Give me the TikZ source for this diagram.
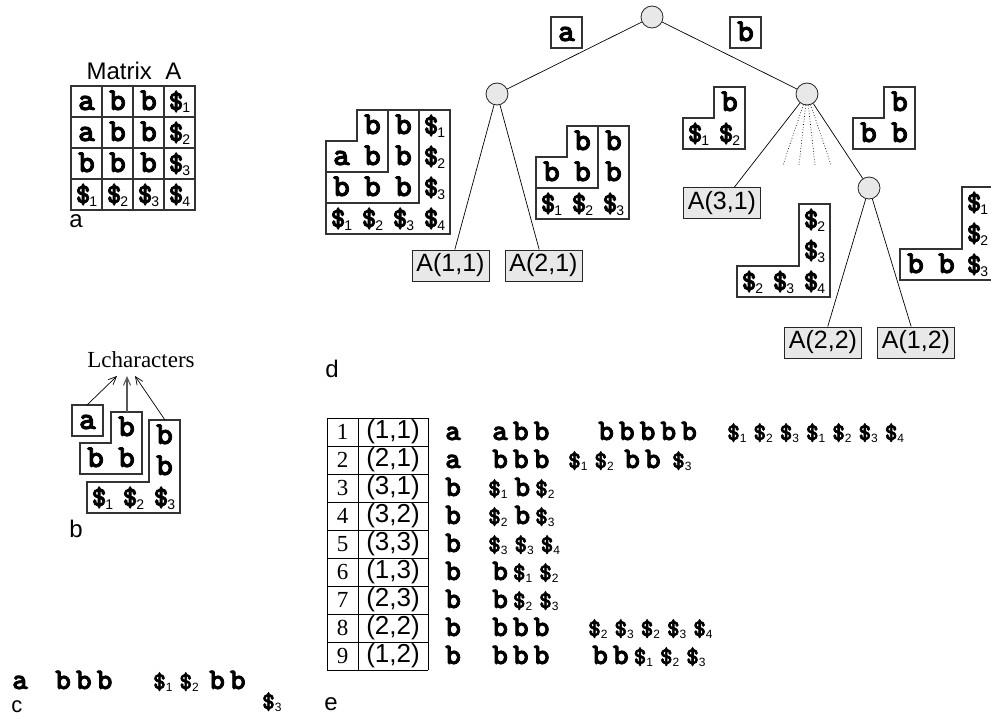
\documentclass[tikz,border=0pt]{standalone}
\usepackage{fontspec}
\usepackage{graphicx}
\setmainfont{Liberation Serif}
\newfontfamily\hv{Liberation Sans}
\newfontfamily\crf{lmmonolt10-bold.otf}[FakeBold=2.5]
\usetikzlibrary{arrows.meta}
\newcommand\mcell[1]{{\crf\fontsize{32}{32}\selectfont #1}}
\newcommand\mdol[1]{{\crf\fontsize{28}{28}\selectfont\$}\kern-1pt\raisebox{-3pt}{\hv\fontsize{14}{14}\selectfont #1}}
\newcommand\tlet[1]{{\crf\fontsize{30}{30}\selectfont #1}\kern5pt}
\newcommand\tdol[1]{{\crf\fontsize{24}{24}\selectfont\$}\raisebox{-2pt}{\hv\fontsize{12}{12}\selectfont #1}\kern7pt}
\begin{document}
\begin{tikzpicture}[x=1pt,y=-1pt,
 ln/.style={draw=black!80,line width=1.1pt},
 ct/.style={inner sep=0pt,text height=17pt,text depth=0pt},
 cell/.style={ct,draw=black!80,line width=1.1pt,minimum width=31pt,minimum height=31pt},
 tx/.style={inner sep=0pt,anchor=base west},
 lab/.style={inner sep=0pt,font=\hv\fontsize{24}{24}\selectfont},
 tnode/.style={circle,draw=black!85,fill=black!9,minimum size=22pt,inner sep=0pt,line width=0.8pt},
 leaf/.style={draw=black!85,fill=black!9,line width=0.9pt,minimum width=77pt,minimum height=31pt,inner sep=0pt,font=\hv\fontsize{25}{25}\selectfont},
 edge/.style={line width=0.7pt},
 fan/.style={line width=0.7pt,dotted},
 arr/.style={line width=0.7pt,-{Straight Barb[length=8pt,width=7pt]}},
 tl/.style={line width=0.8pt},
 num/.style={inner sep=0pt,font=\fontsize{23}{23}\selectfont},
 pair/.style={inner sep=0pt,font=\hv\fontsize{26}{26}\selectfont}]
\useasboundingbox (0,0) rectangle (991,717);
% ---------------- panel a
\node[lab] (mtitle) at (134,71) {Matrix\ \ A};
\node[cell] (a00) at (86.5,101.5) {\mcell{a}};
\node[cell] (a01) at (117.5,101.5) {\mcell{b}};
\node[cell] (a02) at (148.5,101.5) {\mcell{b}};
\node[cell] (a03) at (179.5,101.5) {\mdol{1}};
\node[cell] (a10) at (86.5,132.5) {\mcell{a}};
\node[cell] (a11) at (117.5,132.5) {\mcell{b}};
\node[cell] (a12) at (148.5,132.5) {\mcell{b}};
\node[cell] (a13) at (179.5,132.5) {\mdol{2}};
\node[cell] (a20) at (86.5,163.5) {\mcell{b}};
\node[cell] (a21) at (117.5,163.5) {\mcell{b}};
\node[cell] (a22) at (148.5,163.5) {\mcell{b}};
\node[cell] (a23) at (179.5,163.5) {\mdol{3}};
\node[cell] (a30) at (86.5,194.5) {\mdol{1}};
\node[cell] (a31) at (117.5,194.5) {\mdol{2}};
\node[cell] (a32) at (148.5,194.5) {\mdol{3}};
\node[cell] (a33) at (179.5,194.5) {\mdol{4}};
\node[lab] (laba) at (76,221) {a};
% ---------------- panel b
\node[inner sep=0pt,font=\fontsize{23}{23}\selectfont] (lch) at (141,360) {Lcharacters};
\node[cell] (ba) at (87.5,420.5) {\mcell{a}};
\draw[ln] (111,412) -- (142,412) -- (142,474) -- (80,474) -- (80,443) -- (111,443) -- cycle;
\node[ct] (b2a) at (126.5,427.5) {\mcell{b}};
\node[ct] (b2b) at (95.5,458.5) {\mcell{b}};
\node[ct] (b2c) at (126.5,458.5) {\mcell{b}};
\draw[ln] (149,420) -- (180,420) -- (180,513) -- (87,513) -- (87,482) -- (149,482) -- cycle;
\node[ct] (b3a) at (164.5,435.5) {\mcell{b}};
\node[ct] (b3b) at (164.5,466.5) {\mcell{b}};
\node[ct] (b3c) at (102.5,497.5) {\mdol{1}};
\node[ct] (b3d) at (133.5,497.5) {\mdol{2}};
\node[ct] (b3e) at (164.5,497.5) {\mdol{3}};
\coordinate (s1) at (87,405);
\coordinate (s2) at (127,412);
\coordinate (s3) at (165,420);
\coordinate (t1) at (117,376);
\coordinate (t2) at (127,376);
\coordinate (t3) at (135,376);
\draw[arr] (s1) -- (t1);
\draw[arr,draw=black!65,line width=1.1pt] (s2) -- (t2);
\draw[arr] (s3) -- (t3);
\node[lab] (labb) at (76,529) {b};
% ---------------- panel c
\node[tx] (c1) at (12,689) {\tlet{a}};
\node[tx] (c2) at (55,689) {\tlet{b}\tlet{b}\tlet{b}};
\node[tx] (c3) at (153,689) {\tdol{1}\tdol{2}};
\node[tx] (c4) at (209,689) {\tlet{b}\tlet{b}};
\node[tx] (c5) at (262,709) {\tdol{3}};
\node[lab,font=\hv\fontsize{22}{22}\selectfont] (labc) at (17,707) {c};
% ---------------- panel d (tree)
\node[tnode] (rt) at (652,17) {};
\node[tnode] (lc) at (497,94) {};
\node[tnode] (rc) at (807,94) {};
\node[tnode] (lc2) at (869,188) {};
\node[cell] (ea) at (566.5,32.5) {\mcell{a}};
\node[cell] (eb) at (745.5,32.5) {\mcell{b}};
\node[leaf] (l11) at (450.5,265.5) {A(1,1)};
\node[leaf] (l21) at (543.5,265.5) {A(2,1)};
\node[leaf] (l31) at (722,203) {A(3,1)};
\node[leaf] (l22) at (823,342.5) {A(2,2)};
\node[leaf] (l12) at (916,342.5) {A(1,2)};
\draw[edge] (rt) -- (lc);
\draw[edge] (rt) -- (rc);
\draw[edge] (lc) -- (l11);
\draw[edge] (lc) -- (l21);
\draw[edge] (rc) -- (l31);
\draw[edge] (rc) -- (lc2);
\draw[edge] (lc2) -- (l22);
\draw[edge] (lc2) -- (l12);
\coordinate (f1) at (783,165);
\coordinate (f2) at (799,165);
\coordinate (f3) at (815,165);
\coordinate (f4) at (831,165);
\draw[fan] (rc) -- (f1);
\draw[fan] (rc) -- (f2);
\draw[fan] (rc) -- (f3);
\draw[fan] (rc) -- (f4);
% big nested shape
\draw[ln] (357,110) -- (450,110) -- (450,234) -- (326,234) -- (326,141) -- (357,141) -- cycle;
\draw[ln] (388,110) -- (388,172) -- (326,172);
\draw[ln] (419,110) -- (419,203) -- (326,203);
\node[ct] (d01) at (372.5,125.5) {\mcell{b}};
\node[ct] (d02) at (403.5,125.5) {\mcell{b}};
\node[ct] (d03) at (434.5,125.5) {\mdol{1}};
\node[ct] (d10) at (341.5,156.5) {\mcell{a}};
\node[ct] (d11) at (372.5,156.5) {\mcell{b}};
\node[ct] (d12) at (403.5,156.5) {\mcell{b}};
\node[ct] (d13) at (434.5,156.5) {\mdol{2}};
\node[ct] (d20) at (341.5,187.5) {\mcell{b}};
\node[ct] (d21) at (372.5,187.5) {\mcell{b}};
\node[ct] (d22) at (403.5,187.5) {\mcell{b}};
\node[ct] (d23) at (434.5,187.5) {\mdol{3}};
\node[ct] (d30) at (341.5,218.5) {\mdol{1}};
\node[ct] (d31) at (372.5,218.5) {\mdol{2}};
\node[ct] (d32) at (403.5,218.5) {\mdol{3}};
\node[ct] (d33) at (434.5,218.5) {\mdol{4}};
% shape under a-branch
\draw[ln] (567,126) -- (629,126) -- (629,219) -- (536,219) -- (536,157) -- (567,157) -- cycle;
\draw[ln] (598,126) -- (598,188) -- (536,188);
\node[ct] (e01) at (582.5,141.5) {\mcell{b}};
\node[ct] (e02) at (613.5,141.5) {\mcell{b}};
\node[ct] (e10) at (551.5,172.5) {\mcell{b}};
\node[ct] (e11) at (582.5,172.5) {\mcell{b}};
\node[ct] (e12) at (613.5,172.5) {\mcell{b}};
\node[ct] (e20) at (551.5,203.5) {\mdol{1}};
\node[ct] (e21) at (582.5,203.5) {\mdol{2}};
\node[ct] (e22) at (613.5,203.5) {\mdol{3}};
% b / $1 $2
\draw[ln] (714,87) -- (745,87) -- (745,149) -- (683,149) -- (683,118) -- (714,118) -- cycle;
\node[ct] (f01) at (729.5,102.5) {\mcell{b}};
\node[ct] (f10) at (698.5,133.5) {\mdol{1}};
\node[ct] (f11) at (729.5,133.5) {\mdol{2}};
% b / b b
\draw[ln] (884,87) -- (915,87) -- (915,149) -- (853,149) -- (853,118) -- (884,118) -- cycle;
\node[ct] (g01) at (899.5,102.5) {\mcell{b}};
\node[ct] (g10) at (868.5,133.5) {\mcell{b}};
\node[ct] (g11) at (899.5,133.5) {\mcell{b}};
% $2 / $3 / $2 $3 $4
\draw[ln] (799,204) -- (830,204) -- (830,297) -- (737,297) -- (737,266) -- (799,266) -- cycle;
\node[ct] (h02) at (814.5,219.5) {\mdol{2}};
\node[ct] (h12) at (814.5,250.5) {\mdol{3}};
\node[ct] (h20) at (752.5,281.5) {\mdol{2}};
\node[ct] (h21) at (783.5,281.5) {\mdol{3}};
\node[ct] (h22) at (814.5,281.5) {\mdol{4}};
% $1 / $2 / b b $3
\draw[ln] (962,187) -- (993,187) -- (993,280) -- (900,280) -- (900,249) -- (962,249) -- cycle;
\node[ct] (k02) at (977.5,202.5) {\mdol{1}};
\node[ct] (k12) at (977.5,233.5) {\mdol{2}};
\node[ct] (k20) at (915.5,264.5) {\mcell{b}};
\node[ct] (k21) at (946.5,264.5) {\mcell{b}};
\node[ct] (k22) at (977.5,264.5) {\mdol{3}};
\node[lab] (labd) at (332,369) {d};
% ---------------- panel e (table)
\foreach \k in {0,...,9} \draw[tl] (327,{418+28*\k}) -- (428,{418+28*\k});
\draw[tl] (327,418) -- (327,670);
\draw[tl] (358,418) -- (358,670);
\draw[tl] (428,418) -- (428,670);
\node[num] (n1) at (342.5,432) {1};
\node[num] (n2) at (342.5,460) {2};
\node[num] (n3) at (342.5,488) {3};
\node[num] (n4) at (342.5,516) {4};
\node[num] (n5) at (342.5,544) {5};
\node[num] (n6) at (342.5,572) {6};
\node[num] (n7) at (342.5,600) {7};
\node[num] (n8) at (342.5,628) {8};
\node[num] (n9) at (342.5,656) {9};
\node[pair] (p1) at (393,432) {(1,1)};
\node[pair] (p2) at (393,460) {(2,1)};
\node[pair] (p3) at (393,488) {(3,1)};
\node[pair] (p4) at (393,516) {(3,2)};
\node[pair] (p5) at (393,544) {(3,3)};
\node[pair] (p6) at (393,572) {(1,3)};
\node[pair] (p7) at (393,600) {(2,3)};
\node[pair] (p8) at (393,628) {(2,2)};
\node[pair] (p9) at (393,656) {(1,2)};
% row texts
\node[tx] (r1a) at (445,440) {\tlet{a}};
\node[tx] (r1b) at (492,440) {\tlet{a}\tlet{b}\tlet{b}};
\node[tx] (r1c) at (598,440) {\tlet{b}\tlet{b}\tlet{b}\tlet{b}\tlet{b}};
\node[tx] (r1d) at (727,440) {\tdol{1}\tdol{2}\tdol{3}\tdol{1}\tdol{2}\tdol{3}\tdol{4}};
\node[tx] (r2a) at (445,468) {\tlet{a}};
\node[tx] (r2b) at (492,468) {\tlet{b}\tlet{b}\tlet{b}};
\node[tx] (r2c) at (568,468) {\tdol{1}\tdol{2}};
\node[tx] (r2d) at (624,468) {\tlet{b}\tlet{b}};
\node[tx] (r2e) at (672,468) {\tdol{3}};
\node[tx] (r3a) at (445,496) {\tlet{b}};
\node[tx] (r3b) at (488,496) {\tdol{1}\tlet{b}\tdol{2}};
\node[tx] (r4a) at (445,524) {\tlet{b}};
\node[tx] (r4b) at (488,524) {\tdol{2}\tlet{b}\tdol{3}};
\node[tx] (r5a) at (445,552) {\tlet{b}};
\node[tx] (r5b) at (488,552) {\tdol{3}\tdol{3}\tdol{4}};
\node[tx] (r6a) at (445,580) {\tlet{b}};
\node[tx] (r6b) at (492,580) {\tlet{b}\tdol{1}\tdol{2}};
\node[tx] (r7a) at (445,608) {\tlet{b}};
\node[tx] (r7b) at (492,608) {\tlet{b}\tdol{2}\tdol{3}};
\node[tx] (r8a) at (445,636) {\tlet{b}};
\node[tx] (r8b) at (492,636) {\tlet{b}\tlet{b}\tlet{b}};
\node[tx] (r8c) at (588,636) {\tdol{2}\tdol{3}\tdol{2}\tdol{3}\tdol{4}};
\node[tx] (r9a) at (445,664) {\tlet{b}};
\node[tx] (r9b) at (492,664) {\tlet{b}\tlet{b}\tlet{b}};
\node[tx] (r9c) at (592,664) {\tlet{b}\tlet{b}\tdol{1}\tdol{2}\tdol{3}};
\node[lab] (labe) at (331,704) {e};
\end{tikzpicture}
\end{document}
